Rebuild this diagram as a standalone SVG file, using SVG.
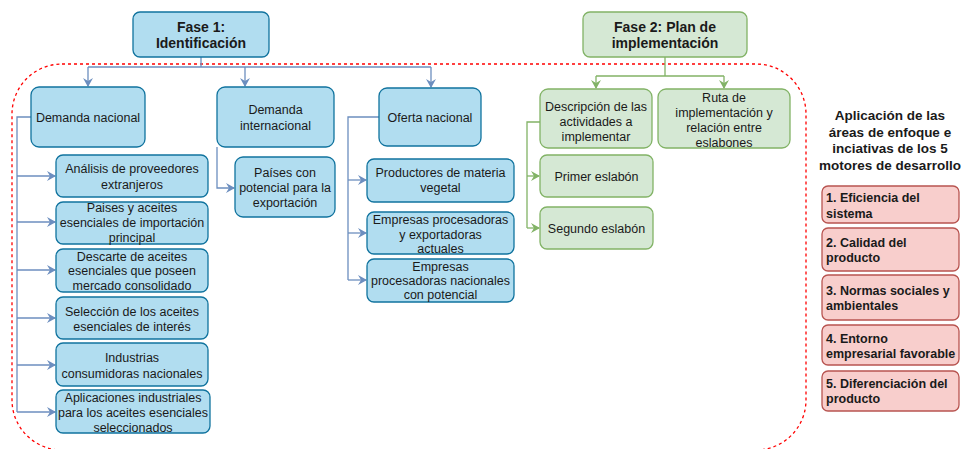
<svg xmlns="http://www.w3.org/2000/svg" width="964" height="449" viewBox="0 0 964 449">
<defs>
<style>
text{font-family:"Liberation Sans",Arial,sans-serif;fill:#1a1a1a}
.t{font-size:12.5px;text-anchor:middle}
.h{font-size:14px;font-weight:bold;text-anchor:middle}
.r{font-size:12.5px;font-weight:bold}
.b{fill:#b1ddf0;stroke:#10739e;stroke-width:1.3}
.g{fill:#d5e8d4;stroke:#82b366;stroke-width:1.3}
.p{fill:#f8cecc;stroke:#b85450;stroke-width:1.3}
.cb{fill:none;stroke:#6c8ebf;stroke-width:1.3}
.cg{fill:none;stroke:#82b366;stroke-width:1.3}
</style>
<marker id="ab" markerWidth="10" markerHeight="10" refX="8" refY="5" orient="auto" markerUnits="userSpaceOnUse"><path d="M0,0 L9,5 L0,10 L3,5 Z" fill="#6c8ebf"/></marker>
<marker id="ag" markerWidth="10" markerHeight="10" refX="8" refY="5" orient="auto" markerUnits="userSpaceOnUse"><path d="M0,0 L9,5 L0,10 L3,5 Z" fill="#82b366"/></marker>
</defs>
<rect x="12" y="64" width="794" height="386" rx="50" ry="50" fill="none" stroke="#ff0000" stroke-width="1.3" stroke-dasharray="3,3"/>
<g id="connectors">
<path class="cb" d="M201,57 V67 M88,67 H431"/>
<path class="cb" d="M88,67 V86" marker-end="url(#ab)"/>
<path class="cb" d="M245,67 V86" marker-end="url(#ab)"/>
<path class="cb" d="M431,67 V87" marker-end="url(#ab)"/>
<path class="cb" d="M31,117 H17 V412"/>
<path class="cb" d="M17,176 H55" marker-end="url(#ab)"/>
<path class="cb" d="M17,222 H55" marker-end="url(#ab)"/>
<path class="cb" d="M17,270 H55" marker-end="url(#ab)"/>
<path class="cb" d="M17,318 H55" marker-end="url(#ab)"/>
<path class="cb" d="M17,365 H55" marker-end="url(#ab)"/>
<path class="cb" d="M17,412 H55" marker-end="url(#ab)"/>
<path class="cb" d="M217,147 V188 H234" marker-end="url(#ab)"/>
<path class="cb" d="M379,117 H348 V280"/>
<path class="cb" d="M348,180 H366" marker-end="url(#ab)"/>
<path class="cb" d="M348,233 H366" marker-end="url(#ab)"/>
<path class="cb" d="M348,280 H366" marker-end="url(#ab)"/>
<path class="cg" d="M665,57 V76 M596,76 H724"/>
<path class="cg" d="M596,76 V88" marker-end="url(#ag)"/>
<path class="cg" d="M724,76 V88" marker-end="url(#ag)"/>
<path class="cg" d="M540,122 H527 V228"/>
<path class="cg" d="M527,176 H539" marker-end="url(#ag)"/>
<path class="cg" d="M527,228 H539" marker-end="url(#ag)"/>
</g>
<g id="fase1"><rect class="b" x="133" y="12" width="136" height="45" rx="7"/><text class="h" x="201" y="32">Fase 1:</text><text class="h" x="201" y="48">Identificación</text></g>
<g id="fase2"><rect class="g" x="583" y="12" width="164" height="45" rx="7"/><text class="h" x="665" y="32">Fase 2: Plan de</text><text class="h" x="665" y="48">implementación</text></g>
<g id="dn"><rect class="b" x="31" y="87" width="114" height="60" rx="8"/><text class="t" x="88" y="121.5">Demanda nacional</text></g>
<g id="di"><rect class="b" x="217" y="87" width="117" height="60" rx="8"/><text class="t" x="275.5" y="113.5">Demanda</text><text class="t" x="275.5" y="129.5">internacional</text></g>
<g id="on"><rect class="b" x="379" y="88" width="102" height="58" rx="8"/><text class="t" x="430" y="121.5">Oferta nacional</text></g>
<g id="dn1"><rect class="b" x="56" y="155" width="152" height="42" rx="7"/><text class="t" x="132" y="172.5">Análisis de proveedores</text><text class="t" x="132" y="188.5">extranjeros</text></g>
<g id="dn2"><rect class="b" x="56" y="202" width="152" height="42" rx="7"/><text class="t" x="132" y="211.5">Paises y aceites</text><text class="t" x="132" y="226.5">esenciales de importación</text><text class="t" x="132" y="241.5">principal</text></g>
<g id="dn3"><rect class="b" x="56" y="249" width="152" height="43" rx="7"/><text class="t" x="132" y="260.5">Descarte de aceites</text><text class="t" x="132" y="274.5">esenciales que poseen</text><text class="t" x="132" y="289.5">mercado consolidado</text></g>
<g id="dn4"><rect class="b" x="56" y="297" width="152" height="42" rx="7"/><text class="t" x="132" y="315.5">Selección de los aceites</text><text class="t" x="132" y="330.5">esenciales de interés</text></g>
<g id="dn5"><rect class="b" x="56" y="343" width="152" height="43" rx="7"/><text class="t" x="132" y="361.5">Industrias</text><text class="t" x="132" y="377.5">consumidoras nacionales</text></g>
<g id="dn6"><rect class="b" x="56" y="390" width="154" height="43" rx="7"/><text class="t" x="133" y="401.5">Aplicaciones industriales</text><text class="t" x="133" y="416.5">para los aceites esenciales</text><text class="t" x="133" y="431.5">seleccionados</text></g>
<g id="di1"><rect class="b" x="235" y="157" width="100" height="60" rx="8"/><text class="t" x="285" y="176.5">Países con</text><text class="t" x="285" y="191.5">potencial para la</text><text class="t" x="285" y="206.5">exportación</text></g>
<g id="on1"><rect class="b" x="367" y="159" width="147" height="43" rx="7"/><text class="t" x="440.5" y="176.5">Productores de materia</text><text class="t" x="440.5" y="191.5">vegetal</text></g>
<g id="on2"><rect class="b" x="367" y="212" width="147" height="42" rx="7"/><text class="t" x="440.5" y="223.5">Empresas procesadoras</text><text class="t" x="440.5" y="238.5">y exportadoras</text><text class="t" x="440.5" y="252.5">actuales</text></g>
<g id="on3"><rect class="b" x="367" y="259" width="147" height="43" rx="7"/><text class="t" x="440.5" y="270.5">Empresas</text><text class="t" x="440.5" y="284.5">procesadoras nacionales</text><text class="t" x="440.5" y="298.5">con potencial</text></g>
<g id="f2a"><rect class="g" x="540" y="89" width="112" height="59" rx="8"/><text class="t" x="596" y="110.5">Descripción de las</text><text class="t" x="596" y="125.5">actividades a</text><text class="t" x="596" y="140.5">implementar</text></g>
<g id="f2b"><rect class="g" x="658" y="89" width="132" height="59" rx="8"/><text class="t" x="724" y="101.5">Ruta de</text><text class="t" x="724" y="116.5">implementación y</text><text class="t" x="724" y="131.5">relación entre</text><text class="t" x="724" y="146.5">eslabones</text></g>
<g id="f2c"><rect class="g" x="540" y="155" width="113" height="42" rx="7"/><text class="t" x="596.5" y="180.5">Primer eslabón</text></g>
<g id="f2d"><rect class="g" x="540" y="207" width="113" height="42" rx="7"/><text class="t" x="596.5" y="232.5">Segundo eslabón</text></g>
<g id="titulo" font-size="13.5" font-weight="bold" text-anchor="middle"><text x="890" y="120">Aplicación de las</text><text x="890" y="137">áreas de enfoque e</text><text x="890" y="153">inciativas de los 5</text><text x="890" y="170">motores de desarrollo</text></g>
<g id="m1"><rect class="p" x="822" y="186" width="137" height="37" rx="6"/><text class="r" x="826" y="201.5">1. Eficiencia del</text><text class="r" x="826" y="217.5">sistema</text></g>
<g id="m2"><rect class="p" x="822" y="228" width="137" height="43" rx="6"/><text class="r" x="826" y="246.5">2. Calidad del</text><text class="r" x="826" y="261.5">producto</text></g>
<g id="m3"><rect class="p" x="822" y="275" width="137" height="45" rx="6"/><text class="r" x="826" y="294.5">3. Normas sociales y</text><text class="r" x="826" y="309.5">ambientales</text></g>
<g id="m4"><rect class="p" x="822" y="325" width="137" height="40" rx="6"/><text class="r" x="826" y="342.5">4. Entorno</text><text class="r" x="826" y="357.5">empresarial favorable</text></g>
<g id="m5"><rect class="p" x="822" y="371" width="137" height="40" rx="6"/><text class="r" x="826" y="387.5">5. Diferenciación del</text><text class="r" x="826" y="402.5">producto</text></g>
</svg>
